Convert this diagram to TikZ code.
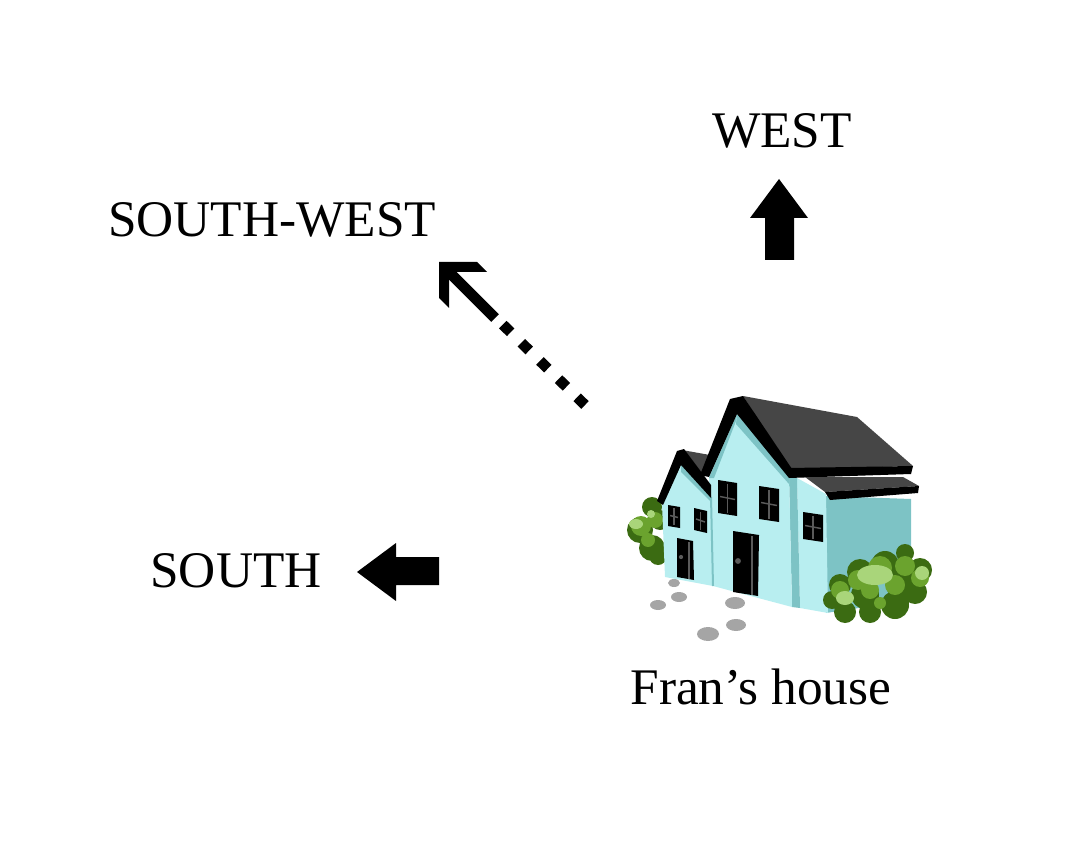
\documentclass[tikz,border=0pt]{standalone}
\usepackage{fontspec}
\setmainfont{Liberation Serif}
\definecolor{housecyan}{HTML}{B8EEF0}
\definecolor{houseteal}{HTML}{7DC3C5}
\definecolor{roofgrey}{HTML}{464646}
\definecolor{bushdark}{HTML}{3B6B12}
\definecolor{bushmid}{HTML}{6BA32E}
\definecolor{bushlight}{HTML}{A9D57A}
\definecolor{stonegrey}{HTML}{A5A5A5}
\definecolor{mullion}{HTML}{5A5A5A}
\begin{document}
\begin{tikzpicture}[x=0.75pt, y=-0.75pt,
  lbl/.style={font=\fontsize{38.5}{46}\selectfont, inner sep=0pt, anchor=base}]
 \useasboundingbox (0,0) rectangle (1066,848);
 \node [lbl] (sw) at (272,237) {SOUTH-WEST};
 \node [lbl] (s) at (236,587) {SOUTH};
 \node [lbl] (w) at (782,148) {WEST};
 \node [lbl] (fran) at (761,704) {Fran’s house};
 \fill (765,260) -- (765,218) -- (750,218) -- (779,179) -- (808,218) -- (794,218) -- (794,260) -- cycle;
 \fill (439,557) -- (396,557) -- (396,543) -- (357,572) -- (396,601) -- (396,585) -- (439,585) -- cycle;
 \fill (439,262) -- (477,262) -- (487,272) -- (449,272) -- (449,308) -- (439,298) -- cycle;
 \draw [line width=8pt] (444,267) -- (495,318);
 \draw [line width=8pt, dash pattern=on 8.25pt off 11.25pt] (585,405) -- (495,317);
 \fill [bushdark] (652,507) circle [radius=7.5pt] (640,530) circle [radius=9.75pt]
   (652,548) circle [radius=9.75pt] (660,520) circle [radius=7.5pt] (658,556) circle [radius=6.75pt];
 \fill [bushmid] (641,526) circle [radius=7.5pt] (655,520) circle [radius=6pt] (648,540) circle [radius=5.25pt];
 \fill [bushlight] (636,524) ellipse [x radius=5.25pt, y radius=3.75pt] (651,514) circle [radius=3pt];
 \fill [houseteal] (826,496) -- (911,499) -- (911,600) -- (826,613) -- cycle;
 \fill [housecyan] (797,478) -- (826,494) -- (828,613) -- (800,608) -- cycle;
 \fill [houseteal] (789,476) -- (797,478) -- (800,608) -- (792,607) -- cycle;
 \fill [housecyan] (709,476) -- (737,414) -- (789,476) -- (792,607) -- (713,586) -- cycle;
 \fill [houseteal] (737,414) -- (789,474) -- (789,484) -- (736,424) -- cycle;
 \fill [houseteal] (709,478) -- (737,414) -- (736,421) -- (714,478) -- cycle;
 \fill [housecyan] (662,504) -- (681,464) -- (711,497) -- (713,586) -- (665,577) -- cycle;
 \fill [houseteal] (681,464) -- (711,495) -- (711,502) -- (681,472) -- cycle;
 \draw [houseteal, line width=1.5pt] (711,497) -- (713,586);
 \fill [roofgrey] (682,450) -- (710,455) -- (702,474) -- (708,488) -- cycle;
 \fill (657,501) -- (677,451) -- (684,449) -- (711,485) -- (711,498) -- (681,465) -- (663,505) -- cycle;
 \fill [roofgrey] (743,396) -- (857,417) -- (913,466) -- (789,469) -- cycle;
 \fill (700,475) -- (730,399) -- (743,396) -- (792,469) -- (789,478) -- (737,414) -- (709,477) -- cycle;
 \fill (789,468) -- (913,466) -- (911,474) -- (789,478) -- cycle;
 \fill [roofgrey] (805,477) -- (903,477) -- (919,486) -- (825,492) -- cycle;
 \fill (825,492) -- (919,486) -- (918,493) -- (830,500) -- cycle;
 \foreach \xa/\ya/\xb/\yb/\h in {668/505/680/507/21, 694/508/707/511/22, 718/480/737/483/33,
   759/486/779/489/33, 803/512/823/515/27} {
   \fill (\xa,\ya) -- (\xb,\yb) -- (\xb,\yb+\h) -- (\xa,\ya+\h) -- cycle;
   \draw [mullion, line width=1.1pt] ({(\xa+\xb)/2},{(\ya+\yb)/2+2}) -- ({(\xa+\xb)/2},{(\ya+\yb)/2+\h-2});
   \draw [mullion, line width=1.1pt] (\xa+2,\ya+\h/2) -- (\xb-2,\yb+\h/2);
 }
 \fill (677,538) -- (693,541) -- (694,580) -- (677,577) -- cycle;
 \draw [mullion, line width=1.1pt] (689,542) -- (689,579);
 \fill [mullion] (681,557) circle [radius=1.6pt];
 \fill (733,531) -- (759,535) -- (758,596) -- (733,592) -- cycle;
 \draw [mullion, line width=1.3pt] (752,536) -- (752,595);
 \fill [mullion] (738,561) circle [radius=2.2pt];
 \fill [stonegrey] (674,583) ellipse [x radius=4.5pt, y radius=3pt]
   (679,597) ellipse [x radius=6pt, y radius=3.75pt]
   (658,605) ellipse [x radius=6pt, y radius=3.75pt]
   (735,603) ellipse [x radius=7.5pt, y radius=4.5pt]
   (736,625) ellipse [x radius=7.5pt, y radius=4.5pt]
   (708,634) ellipse [x radius=8.25pt, y radius=5.25pt];
 \fill [bushdark] (905,553) circle [radius=6.75pt] (920,570) circle [radius=9pt]
   (915,592) circle [radius=9pt] (895,605) circle [radius=10.5pt] (870,612) circle [radius=8.25pt]
   (845,612) circle [radius=8.25pt] (832,600) circle [radius=6.75pt] (840,585) circle [radius=8.25pt]
   (860,572) circle [radius=9.75pt] (885,565) circle [radius=10.5pt] (900,585) circle [radius=10.5pt]
   (865,595) circle [radius=10.5pt];
 \fill [bushmid] (840,590) circle [radius=6.75pt] (858,580) circle [radius=7.5pt]
   (880,568) circle [radius=9pt] (905,566) circle [radius=7.5pt] (920,578) circle [radius=6.75pt]
   (895,585) circle [radius=7.5pt] (870,590) circle [radius=6.75pt] (880,603) circle [radius=4.5pt];
 \fill [bushlight] (875,575) ellipse [x radius=13.5pt, y radius=7.5pt] (922,573) circle [radius=5.25pt]
   (845,598) ellipse [x radius=6.75pt, y radius=5.25pt];
\end{tikzpicture}
\end{document}
